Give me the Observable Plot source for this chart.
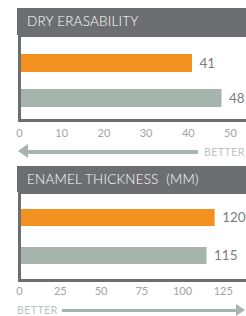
<!DOCTYPE html>
<html>
<head>
<meta charset="utf-8">
<script src="https://cdn.jsdelivr.net/npm/d3@7"></script>
<script src="https://cdn.jsdelivr.net/npm/@observablehq/plot@0.6"></script>
<style>
  html, body { margin: 0; padding: 0; background: #fff; overflow: hidden; }
  #wrap { position: relative; width: 246px; height: 316px; overflow: hidden; font-family: Lato, "Open Sans", sans-serif; }
  .hdr { position: absolute; left: 17px; width: 260px; background: #6d6e71; color: #fff;
         font-size: 13.5px; font-weight: 300; letter-spacing: 0.2px; padding-left: 10px; box-sizing: border-box; white-space: pre; }
  #wrap svg.plot { position: absolute; left: 0; max-width: none !important; }
  .better { position: absolute; color: #b9c6bf; font-size: 10.5px; letter-spacing: 0.5px; white-space: nowrap; }
  .line { position: absolute; background: #a5b4ac; }
  .head { position: absolute; width: 0; height: 0; }
</style>
</head>
<body>
<div id="wrap"></div>
<script>
// ---- data ----
const categories = ["Series 1", "Series 2"];
const colors = ["#f39120", "#a5b4ac"];
const dryTitle = "DRY ERASABILITY";
const dryValues = [41, 48];
const dryTicks = [0, 10, 20, 30, 40, 50];
const enamelTitle = "ENAMEL THICKNESS  (MM)";
const enamelValues = [120, 115];
const enamelTicks = [0, 25, 50, 75, 100, 125];
const betterLabel = "BETTER";

const wrap = document.getElementById("wrap");

function header(text, top, height) {
  const d = document.createElement("div");
  d.className = "hdr";
  d.style.top = top + "px";
  d.style.height = height + "px";
  d.style.lineHeight = height + "px";
  d.textContent = text;
  wrap.appendChild(d);
}

function panel(values, ticks, top, opts) {
  const data = categories.map((c, i) => ({cat: c, value: values[i]}));
  const chart = Plot.plot({
    width: 300,
    height: opts.height,
    marginTop: 0,
    marginBottom: opts.marginBottom,
    marginLeft: 19,
    marginRight: opts.marginRight,
    style: {fontFamily: "Lato, 'Open Sans', sans-serif", fontSize: "11px", color: "#a3a3a3", background: "transparent"},
    x: {domain: [0, opts.xMax], ticks: ticks, tickSize: 0, tickPadding: opts.tickPadding, label: null},
    y: {domain: categories, range: opts.yRange, paddingInner: opts.padInner, paddingOuter: 0, axis: null},
    color: {domain: categories, range: colors},
    marks: [
      Plot.barX(data, {x: "value", y: "cat", fill: "cat"}),
      Plot.text(data, {x: "value", y: "cat", text: d => String(d.value), dx: 7, textAnchor: "start", fill: "#7d7d7d", fontSize: 13.5}),
      Plot.frame({stroke: "#6d6e71", strokeWidth: 3})
    ]
  });
  chart.classList.add("plot");
  chart.style.position = "absolute";
  chart.style.top = top + "px";
  chart.style.left = "0px";
  chart.style.maxWidth = "none";
  chart.style.width = "300px";
  chart.style.height = opts.height + "px";
  wrap.appendChild(chart);
}

header(dryTitle, 8, 27);
panel(dryValues, dryTicks, 35, {height: 107, marginBottom: 22, marginRight: 11, xMax: 64, tickPadding: 9, yRange: [19, 72], padInner: 0.486});

header(enamelTitle, 166, 26);
panel(enamelValues, enamelTicks, 192, {height: 108, marginBottom: 20, marginRight: 12, xMax: 165, tickPadding: 7, yRange: [17, 72], padInner: 0.553});

// ---- "better" direction arrows (decoration) ----
function el(cls, css, text) {
  const d = document.createElement("div");
  d.className = cls;
  Object.assign(d.style, css);
  if (text) d.textContent = text;
  wrap.appendChild(d);
}
// panel 1: arrow pointing left
el("head", {left: "18px", top: "144px", borderTop: "7.5px solid transparent", borderBottom: "7.5px solid transparent", borderRight: "10px solid #a5b4ac"});
el("line", {left: "28px", top: "150px", width: "170px", height: "4px"});
el("better", {left: "204px", top: "145px", lineHeight: "14px"}, betterLabel);
// panel 2: arrow pointing right
el("better", {left: "17px", top: "303px", lineHeight: "14px"}, betterLabel);
el("line", {left: "62px", top: "308.5px", width: "176px", height: "3px"});
el("head", {left: "236px", top: "304px", borderTop: "6px solid transparent", borderBottom: "6px solid transparent", borderLeft: "9px solid #a5b4ac"});
</script>
</body>
</html>
